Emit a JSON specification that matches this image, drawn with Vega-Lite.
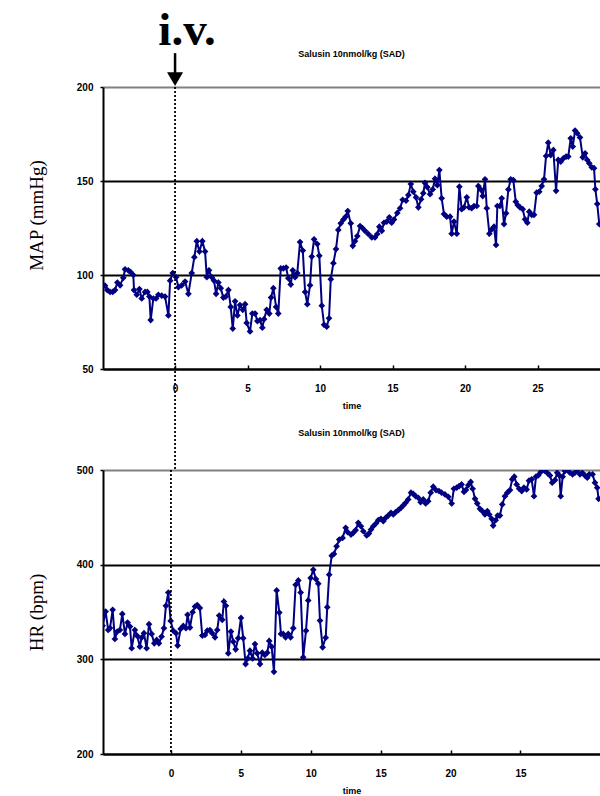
{
  "$schema": "https://vega.github.io/schema/vega-lite/v6.json",
  "padding": {"left": 27, "top": 7, "right": 0, "bottom": 2},
  "bounds": "flush",
  "spacing": 101,
  "background": "white",
  "config": {
    "view": {"stroke": null},
    "font": "Liberation Sans",
    "axis": {
      "labelFont": "Liberation Sans", "labelFontWeight": "bold", "labelFontSize": 10, "labelColor": "black",
      "domainColor": "black", "domainWidth": 2, "tickColor": "black", "tickWidth": 1.5, "titleColor": "black"
    },
    "axisX": {"grid": false, "tickSize": -4, "labelPadding": 18, "titleFontSize": 9, "titleFontWeight": "bold", "titlePadding": 8, "labelFlush": false},
    "axisY": {"tickSize": 3, "labelPadding": 7, "titleFont": "Liberation Serif", "titleFontSize": 19, "titleFontWeight": "normal", "titlePadding": 30, "gridWidth": 1.8},
    "title": {"font": "Liberation Sans", "fontSize": 9, "fontWeight": "bold", "color": "black", "offset": 27}
  },
  "datasets": {
    "one": [{}],
    "map": [
      {"t":-4.83,"v":94.3},{"t":-4.67,"v":92},{"t":-4.48,"v":91},{"t":-4.30,"v":91},{"t":-4.14,"v":92},{"t":-3.98,"v":96},{"t":-3.79,"v":94.5},{"t":-3.57,"v":98.5},{"t":-3.45,"v":103},{"t":-3.22,"v":102.5},{"t":-3.06,"v":101.5},{"t":-2.88,"v":100},{"t":-2.83,"v":92},{"t":-2.64,"v":89.5},{"t":-2.46,"v":92.5},{"t":-2.30,"v":87.5},{"t":-2.07,"v":91},{"t":-1.91,"v":91},{"t":-1.77,"v":88.5},{"t":-1.68,"v":76},{"t":-1.50,"v":87.5},{"t":-1.31,"v":87.5},{"t":-1.15,"v":89.5},{"t":-0.92,"v":89},{"t":-0.69,"v":88.5},{"t":-0.46,"v":78.5},{"t":-0.34,"v":97},{"t":-0.16,"v":101},{"t":0.07,"v":98.8},{"t":0.23,"v":93.5},{"t":0.46,"v":94.5},{"t":0.69,"v":96.5},{"t":0.92,"v":90},{"t":1.15,"v":101},{"t":1.33,"v":109.5},{"t":1.50,"v":118},{"t":1.68,"v":112.5},{"t":1.88,"v":118},{"t":2.07,"v":112.5},{"t":2.19,"v":98.8},{"t":2.34,"v":102.5},{"t":2.53,"v":98.8},{"t":2.69,"v":97},{"t":2.83,"v":90},{"t":2.99,"v":96},{"t":3.15,"v":93},{"t":3.33,"v":88},{"t":3.50,"v":88.5},{"t":3.68,"v":92},{"t":3.84,"v":83},{"t":3.98,"v":71.5},{"t":4.14,"v":86},{"t":4.30,"v":78.5},{"t":4.48,"v":84},{"t":4.67,"v":81.5},{"t":4.83,"v":84.5},{"t":4.94,"v":74.5},{"t":5.17,"v":70},{"t":5.33,"v":79.5},{"t":5.52,"v":79.5},{"t":5.68,"v":75.5},{"t":5.86,"v":76},{"t":6.02,"v":72},{"t":6.14,"v":76.5},{"t":6.32,"v":81.5},{"t":6.50,"v":79.5},{"t":6.62,"v":88},{"t":6.78,"v":93},{"t":6.97,"v":83},{"t":7.12,"v":79.5},{"t":7.29,"v":103.5},{"t":7.47,"v":103.5},{"t":7.66,"v":104},{"t":7.81,"v":98.3},{"t":7.98,"v":95},{"t":8.12,"v":102.5},{"t":8.28,"v":98.8},{"t":8.43,"v":101},{"t":8.62,"v":117.5},{"t":8.81,"v":113},{"t":8.97,"v":91},{"t":9.12,"v":84.5},{"t":9.31,"v":94.5},{"t":9.43,"v":109.8},{"t":9.59,"v":119},{"t":9.81,"v":116.5},{"t":9.95,"v":110.3},{"t":10.12,"v":83.7},{"t":10.28,"v":73.5},{"t":10.46,"v":72.5},{"t":10.62,"v":77},{"t":10.74,"v":97.8},{"t":10.92,"v":106.3},{"t":11.10,"v":113.8},{"t":11.26,"v":124},{"t":11.43,"v":127.5},{"t":11.61,"v":129.5},{"t":11.77,"v":131},{"t":11.91,"v":134},{"t":12.12,"v":127.5},{"t":12.26,"v":115.5},{"t":12.41,"v":118},{"t":12.57,"v":120.7},{"t":12.76,"v":126},{"t":12.92,"v":125},{"t":13.10,"v":123.5},{"t":13.33,"v":121.8},{"t":13.57,"v":120},{"t":13.79,"v":120},{"t":13.95,"v":121.8},{"t":14.09,"v":125.7},{"t":14.26,"v":123.5},{"t":14.41,"v":127.8},{"t":14.60,"v":128.4},{"t":14.78,"v":130.7},{"t":14.94,"v":127.8},{"t":15.10,"v":129.5},{"t":15.33,"v":133},{"t":15.52,"v":135.5},{"t":15.70,"v":140},{"t":15.93,"v":139.5},{"t":16.09,"v":142.5},{"t":16.26,"v":148.4},{"t":16.43,"v":144.3},{"t":16.62,"v":141.3},{"t":16.78,"v":136},{"t":16.97,"v":140.3},{"t":17.12,"v":143.5},{"t":17.24,"v":149},{"t":17.40,"v":146.7},{"t":17.59,"v":143},{"t":17.77,"v":145.5},{"t":17.93,"v":151.2},{"t":18.09,"v":147.8},{"t":18.23,"v":155.8},{"t":18.39,"v":140.8},{"t":18.55,"v":132.4},{"t":18.74,"v":131},{"t":18.97,"v":131},{"t":19.08,"v":122},{"t":19.24,"v":128.4},{"t":19.43,"v":122},{"t":19.61,"v":147},{"t":19.77,"v":135},{"t":19.93,"v":136},{"t":20.12,"v":141.3},{"t":20.28,"v":136},{"t":20.46,"v":135.5},{"t":20.62,"v":136.7},{"t":20.81,"v":136.7},{"t":20.92,"v":147.3},{"t":21.08,"v":145.5},{"t":21.22,"v":142},{"t":21.38,"v":150.9},{"t":21.50,"v":135.5},{"t":21.68,"v":122},{"t":21.84,"v":124.3},{"t":22.00,"v":125.7},{"t":22.14,"v":116},{"t":22.23,"v":136.7},{"t":22.41,"v":136.7},{"t":22.53,"v":140.8},{"t":22.69,"v":127.1},{"t":22.83,"v":132.8},{"t":22.99,"v":145.5},{"t":23.15,"v":150.9},{"t":23.33,"v":150.5},{"t":23.50,"v":139},{"t":23.63,"v":137.2},{"t":23.79,"v":136},{"t":23.98,"v":135},{"t":24.14,"v":129.6},{"t":24.30,"v":127.8},{"t":24.43,"v":133.7},{"t":24.60,"v":132},{"t":24.76,"v":132},{"t":24.94,"v":143.8},{"t":25.12,"v":144.3},{"t":25.29,"v":147.3},{"t":25.45,"v":150.9},{"t":25.59,"v":163.3},{"t":25.74,"v":170.4},{"t":25.91,"v":163.8},{"t":26.09,"v":166.5},{"t":26.28,"v":144.8},{"t":26.43,"v":161.2},{"t":26.60,"v":160.3},{"t":26.78,"v":162},{"t":26.97,"v":163},{"t":27.12,"v":163},{"t":27.29,"v":172.7},{"t":27.43,"v":168.3},{"t":27.59,"v":176.8},{"t":27.74,"v":175.4},{"t":27.93,"v":173.2},{"t":28.12,"v":162.6},{"t":28.28,"v":164.7},{"t":28.43,"v":161.2},{"t":28.57,"v":159.4},{"t":28.74,"v":157.3},{"t":28.90,"v":156.8},{"t":28.99,"v":145.6},{"t":29.12,"v":137.8},{"t":29.26,"v":127.1}
    ],
    "hr": [
      {"t":-4.89,"v":335.6},{"t":-4.67,"v":350.5},{"t":-4.49,"v":331},{"t":-4.36,"v":333},{"t":-4.17,"v":352.3},{"t":-4.01,"v":321.5},{"t":-3.84,"v":329.3},{"t":-3.65,"v":331},{"t":-3.48,"v":348},{"t":-3.29,"v":326.8},{"t":-3.10,"v":338.8},{"t":-2.93,"v":334.6},{"t":-2.81,"v":311.7},{"t":-2.58,"v":331},{"t":-2.41,"v":324.7},{"t":-2.22,"v":313.4},{"t":-2.10,"v":322.9},{"t":-1.93,"v":327.6},{"t":-1.74,"v":311.7},{"t":-1.57,"v":337.1},{"t":-1.38,"v":326.8},{"t":-1.19,"v":316.9},{"t":-1.02,"v":320.5},{"t":-0.86,"v":316.9},{"t":-0.67,"v":324},{"t":-0.50,"v":332.9},{"t":-0.36,"v":356.5},{"t":-0.19,"v":370.6},{"t":-0.02,"v":340.6},{"t":0.16,"v":330.3},{"t":0.36,"v":327.6},{"t":0.48,"v":314.5},{"t":0.69,"v":332.1},{"t":0.88,"v":335.3},{"t":1.07,"v":332.9},{"t":1.19,"v":347},{"t":1.36,"v":333.5},{"t":1.55,"v":349.8},{"t":1.72,"v":355.8},{"t":1.88,"v":357.3},{"t":2.07,"v":354.1},{"t":2.24,"v":325.1},{"t":2.43,"v":325.8},{"t":2.60,"v":330.3},{"t":2.79,"v":331},{"t":2.95,"v":327.6},{"t":3.15,"v":323.3},{"t":3.31,"v":331},{"t":3.45,"v":346.2},{"t":3.67,"v":341.7},{"t":3.79,"v":361.1},{"t":3.93,"v":356.5},{"t":4.10,"v":306.4},{"t":4.29,"v":329.3},{"t":4.46,"v":318.7},{"t":4.63,"v":310.6},{"t":4.81,"v":322.3},{"t":5.01,"v":343.7},{"t":5.17,"v":322.3},{"t":5.34,"v":295},{"t":5.49,"v":301},{"t":5.65,"v":309.1},{"t":5.84,"v":301},{"t":6.01,"v":316.2},{"t":6.17,"v":306.4},{"t":6.37,"v":295},{"t":6.53,"v":307},{"t":6.72,"v":304.6},{"t":6.89,"v":307},{"t":7.03,"v":319.4},{"t":7.20,"v":313.4},{"t":7.37,"v":286.8},{"t":7.56,"v":372.8},{"t":7.75,"v":349.4},{"t":7.87,"v":326.8},{"t":8.03,"v":326.8},{"t":8.20,"v":323.3},{"t":8.39,"v":326.8},{"t":8.56,"v":323.3},{"t":8.75,"v":332.9},{"t":8.92,"v":378.8},{"t":9.11,"v":383.4},{"t":9.28,"v":370.6},{"t":9.46,"v":302.1},{"t":9.66,"v":330.3},{"t":9.82,"v":362.2},{"t":9.99,"v":385.9},{"t":10.18,"v":394.7},{"t":10.37,"v":384.8},{"t":10.54,"v":379.9},{"t":10.66,"v":340.9},{"t":10.85,"v":312.7},{"t":11.07,"v":322.9},{"t":11.18,"v":355.1},{"t":11.32,"v":389.4},{"t":11.50,"v":409.5},{"t":11.66,"v":411.3},{"t":11.85,"v":419.4},{"t":12.04,"v":426.5},{"t":12.28,"v":428.3},{"t":12.50,"v":438.9},{"t":12.64,"v":434.3},{"t":12.88,"v":431.8},{"t":13.04,"v":433.6},{"t":13.21,"v":436.4},{"t":13.40,"v":444.2},{"t":13.59,"v":440.6},{"t":13.76,"v":435.3},{"t":14.00,"v":430.8},{"t":14.16,"v":432.9},{"t":14.31,"v":437.1},{"t":14.47,"v":440.6},{"t":14.66,"v":443.5},{"t":14.83,"v":447},{"t":15.02,"v":448.4},{"t":15.19,"v":445.9},{"t":15.36,"v":449.5},{"t":15.54,"v":451.9},{"t":15.74,"v":454.8},{"t":15.90,"v":453},{"t":16.07,"v":455.5},{"t":16.26,"v":457.6},{"t":16.45,"v":460.1},{"t":16.62,"v":462.6},{"t":16.79,"v":465.4},{"t":16.97,"v":468.9},{"t":17.17,"v":476},{"t":17.33,"v":474.9},{"t":17.50,"v":472.4},{"t":17.69,"v":470.7},{"t":17.86,"v":466},{"t":18.05,"v":468.9},{"t":18.22,"v":464.7},{"t":18.40,"v":467.1},{"t":18.58,"v":476},{"t":18.76,"v":482.4},{"t":18.96,"v":478.8},{"t":19.17,"v":477.8},{"t":19.36,"v":476},{"t":19.60,"v":474.2},{"t":19.84,"v":471.7},{"t":20.08,"v":464.7},{"t":20.24,"v":480.2},{"t":20.44,"v":481.3},{"t":20.62,"v":483},{"t":20.79,"v":484.8},{"t":20.96,"v":476.9},{"t":21.10,"v":479},{"t":21.27,"v":484},{"t":21.44,"v":487.4},{"t":21.58,"v":480.2},{"t":21.75,"v":469.6},{"t":21.91,"v":464.7},{"t":22.10,"v":459},{"t":22.27,"v":456.6},{"t":22.46,"v":453},{"t":22.63,"v":456.6},{"t":22.77,"v":453},{"t":22.94,"v":448.4},{"t":23.05,"v":441.3},{"t":23.23,"v":447},{"t":23.37,"v":451.9},{"t":23.53,"v":451.9},{"t":23.70,"v":463.6},{"t":23.89,"v":472.4},{"t":24.06,"v":476},{"t":24.25,"v":478.8},{"t":24.41,"v":490.1},{"t":24.56,"v":492.9},{"t":24.73,"v":484.8},{"t":24.91,"v":480.2},{"t":25.09,"v":477.7},{"t":25.25,"v":481.3},{"t":25.44,"v":479.5},{"t":25.61,"v":488.7},{"t":25.80,"v":490.1},{"t":25.97,"v":472.4},{"t":26.11,"v":492.9},{"t":26.27,"v":494.3},{"t":26.45,"v":497.8},{"t":26.59,"v":500},{"t":26.75,"v":499},{"t":26.95,"v":496.5},{"t":27.11,"v":494.3},{"t":27.27,"v":486.6},{"t":27.47,"v":489.4},{"t":27.63,"v":497.2},{"t":27.78,"v":494.3},{"t":27.88,"v":472.4},{"t":28.02,"v":492.9},{"t":28.18,"v":498.9},{"t":28.35,"v":500},{"t":28.54,"v":497.2},{"t":28.73,"v":495.4},{"t":28.90,"v":497.2},{"t":29.06,"v":500},{"t":29.26,"v":495.4},{"t":29.42,"v":497.2},{"t":29.61,"v":494.3},{"t":29.78,"v":491.8},{"t":29.92,"v":495.4},{"t":30.16,"v":495.4},{"t":30.33,"v":486.6},{"t":30.49,"v":481.3},{"t":30.59,"v":469.6}
    ]
  },
  "vconcat": [
    {
      "width": 497,
      "height": 282,
      "title": {"text": "Salusin 10nmol/kg (SAD)", "offset": -52},
      "layer": [
        {
          "data": {"name": "map"},
          "mark": {"type": "line", "color": "#000080", "strokeWidth": 2, "clip": true},
          "encoding": {
            "x": {"field": "t", "type": "quantitative", "scale": {"domain": [-4.97, 29.31], "nice": false, "zero": false},
                  "axis": {"title": "time", "values": [0, 5, 10, 15, 20, 25]}},
            "y": {"field": "v", "type": "quantitative", "scale": {"domain": [50, 200], "nice": false, "zero": false},
                  "axis": {"title": "MAP (mmHg)", "titleY": 128, "values": [50, 100, 150, 200], "grid": true,
                           "gridColor": {"condition": {"test": "datum.value === 200", "value": "#808080"}, "value": "black"}}}
          }
        },
        {
          "data": {"name": "map"},
          "mark": {"type": "point", "shape": "diamond", "filled": true, "size": 45, "color": "#000080", "opacity": 1, "clip": true},
          "encoding": {
            "x": {"field": "t", "type": "quantitative"},
            "y": {"field": "v", "type": "quantitative"}
          }
        },
        {
          "data": {"name": "one"},
          "mark": {"type": "rule", "color": "black", "strokeDash": [2, 2], "strokeWidth": 1.8},
          "encoding": {"x": {"datum": 0}, "y": {"datum": 200}, "y2": {"datum": -3.72}}
        },
        {
          "data": {"name": "one"},
          "mark": {"type": "rule", "color": "black", "strokeWidth": 2.5},
          "encoding": {"x": {"datum": 0}, "y": {"datum": 218}, "y2": {"datum": 206}}
        },
        {
          "data": {"name": "one"},
          "mark": {"type": "point", "shape": "triangle-down", "filled": true, "size": 256, "color": "black", "opacity": 1},
          "encoding": {"x": {"datum": 0}, "y": {"datum": 204.2}}
        },
        {
          "data": {"name": "one"},
          "mark": {"type": "text", "text": "i.v.", "font": "Liberation Serif", "fontSize": 47, "fontWeight": "bold", "color": "black", "align": "center", "baseline": "alphabetic", "dx": 12},
          "encoding": {"x": {"datum": 0}, "y": {"datum": 222.3}}
        }
      ]
    },
    {
      "width": 497,
      "height": 284,
      "title": {"text": "Salusin 10nmol/kg (SAD)"},
      "layer": [
        {
          "data": {"name": "hr"},
          "mark": {"type": "line", "color": "#000080", "strokeWidth": 2, "clip": true},
          "encoding": {
            "x": {"field": "t", "type": "quantitative", "scale": {"domain": [-4.86, 30.69], "nice": false, "zero": false},
                  "axis": {"title": "time", "values": [0, 5, 10, 15, 20, 25], "labelExpr": "datum.value === 25 ? '15' : datum.label"}},
            "y": {"field": "v", "type": "quantitative", "scale": {"domain": [200, 500], "nice": false, "zero": false},
                  "axis": {"title": "HR (bpm)", "values": [200, 300, 400, 500], "grid": true,
                           "gridColor": {"condition": {"test": "datum.value === 500", "value": "#808080"}, "value": "black"}}}
          }
        },
        {
          "data": {"name": "hr"},
          "mark": {"type": "point", "shape": "diamond", "filled": true, "size": 45, "color": "#000080", "opacity": 1, "clip": true},
          "encoding": {
            "x": {"field": "t", "type": "quantitative"},
            "y": {"field": "v", "type": "quantitative"}
          }
        },
        {
          "data": {"name": "one"},
          "mark": {"type": "rule", "color": "black", "strokeDash": [2, 2], "strokeWidth": 1.8},
          "encoding": {"x": {"datum": 0}, "y": {"datum": 500}, "y2": {"datum": 200}}
        }
      ]
    }
  ]
}
